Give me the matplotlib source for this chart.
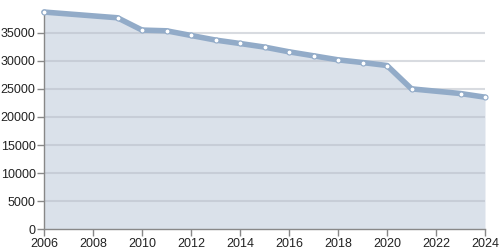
import matplotlib
matplotlib.use("Agg")
import matplotlib.pyplot as plt

years = [2006, 2009, 2010, 2011, 2012, 2013, 2014, 2015, 2016, 2017, 2018, 2019, 2020, 2021, 2023, 2024]
values = [38690, 37670, 35480, 35350, 34520, 33700, 33090, 32450, 31610, 30900, 30180, 29700, 29170, 25010, 24180, 23530]
xticks = list(range(2006, 2025, 2))
yticks = list(range(0, 35001, 5000))

plt.rcParams['font.family'] = ['Liberation Sans', 'DejaVu Sans']
fig = plt.figure(figsize=(5, 2.5), dpi=100)
ax = fig.add_axes([0.088, 0.0828, 0.882, 0.869])

ax.fill_between(years, values, 0, color='#dae1ea', zorder=1, linewidth=0)
for y in yticks[1:]:
    ax.axhline(y, color='#b8bec8', alpha=0.55, linewidth=1.5, zorder=2)
ax.plot(years, values, color='#92abc8', linewidth=4, zorder=3, solid_joinstyle='round',
        solid_capstyle='round', clip_on=False)
ax.plot(years, values, linestyle='none', marker='o', markersize=3.6,
        markerfacecolor='white', markeredgecolor='#92abc8', markeredgewidth=0.8, zorder=4,
        clip_on=False)

ax.set_xlim(2006, 2024)
ax.set_ylim(0, max(values))
ax.set_xticks(xticks)
ax.set_yticks(yticks)
ax.set_xticklabels([str(t) for t in xticks])
ax.set_yticklabels([str(t) for t in yticks])
ax.tick_params(axis='both', labelsize=9, colors='#888888', labelcolor='#222222',
               length=5, width=1, direction='out', pad=1)
for s in ['top', 'right']:
    ax.spines[s].set_visible(False)
for s in ['left', 'bottom']:
    ax.spines[s].set_color('#888888')
    ax.spines[s].set_linewidth(1)

fig.savefig('out.png', dpi=100)
